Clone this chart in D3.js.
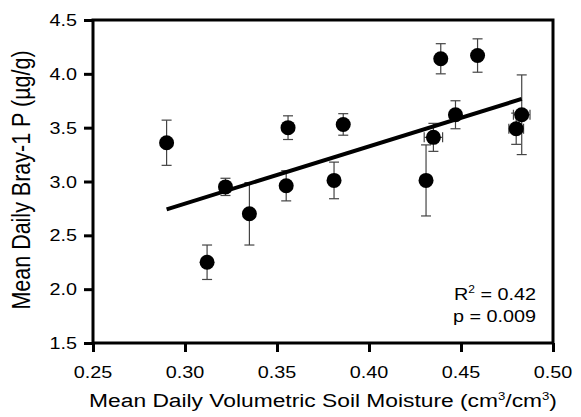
<!DOCTYPE html>
<html lang="en">
<head>
  <meta charset="UTF-8">
  <title>Bray-1 P vs soil moisture</title>
  <script src="https://cdn.jsdelivr.net/npm/d3@7"></script>
<style>
body{
  margin: 0;
  background: #fff;
}
text{
  font-family: "Liberation Sans", Arial, sans-serif;
  fill: #000;
}
.eje{
  stroke: #000;
  stroke-width: 3;
  fill: none;
}
.error{
  stroke: #444;
  stroke-width: 1.2;
}
.ajuste{
  stroke: #000;
  stroke-width: 4;
}
</style>
</head>
<body>
  <div id="grafico"></div>

  <script>
    // datos
    var humedad   = [0.290, 0.312, 0.322, 0.335, 0.355, 0.356, 0.381, 0.386, 0.431, 0.435, 0.439, 0.447, 0.459, 0.480, 0.483];
    var fosforo   = [3.36, 2.25, 2.95, 2.70, 2.96, 3.50, 3.01, 3.53, 3.01, 3.41, 4.14, 3.62, 4.17, 3.49, 3.62];
    var errorP    = [0.21, 0.16, 0.08, 0.29, 0.14, 0.11, 0.17, 0.10, 0.33, 0.13, 0.14, 0.13, 0.155, 0.145, 0.37];
    var errorH    = [0, 0, 0, 0, 0, 0, 0, 0, 0, 0.005, 0, 0, 0, 0.004, 0.0045];
    var ticksX    = [0.25, 0.30, 0.35, 0.40, 0.45, 0.50];
    var ticksY    = [1.5, 2.0, 2.5, 3.0, 3.5, 4.0, 4.5];
    // recta de regresion
    var ordenada  = 1.202;
    var pendiente = 5.31;
    var rangoAjuste = [0.29, 0.483];
    var notas = ["R2 = 0.42", "p = 0.009"];

    var w = 581;
    var h = 417;
    var izq = 93, der = 553, arriba = 20, abajo = 343;
    var estirar = 1.2;

    var svg = d3.select("#grafico")
      .append("svg")
      .attr("width", w)
      .attr("height", h);

    var xScale = d3.scaleLinear().domain([0.25, 0.50]).range([izq, der]);
    var yScale = d3.scaleLinear().domain([1.5, 4.5]).range([abajo, arriba]);

    // ejes
    svg.append("g")
      .attr("transform", "translate(0," + abajo + ")")
      .call(d3.axisBottom(xScale).tickValues(ticksX).tickSize(9).tickFormat(""));
    svg.append("g")
      .attr("transform", "translate(" + izq + ",0)")
      .call(d3.axisLeft(yScale).tickValues(ticksY).tickSize(9).tickFormat(""));
    svg.selectAll(".domain").remove();
    svg.selectAll(".tick line").attr("stroke", "#000").attr("stroke-width", 3);

    svg.append("rect")
      .attr("class", "eje")
      .attr("x", izq).attr("y", arriba)
      .attr("width", der - izq).attr("height", abajo - arriba);

    // etiquetas de los ticks (algo estiradas en horizontal como el original)
    ticksX.forEach(function(t){
      svg.append("text")
        .attr("transform", "translate(" + xScale(t) + ",378) scale(" + estirar + ",1)")
        .attr("text-anchor", "middle")
        .style("font-size", "16.5px")
        .text(d3.format(".2f")(t));
    });
    ticksY.forEach(function(t){
      svg.append("text")
        .attr("transform", "translate(77," + (yScale(t) + 6) + ") scale(" + estirar + ",1)")
        .attr("text-anchor", "end")
        .style("font-size", "16.5px")
        .text(d3.format(".1f")(t));
    });

    // titulos
    var tx = svg.append("text")
      .attr("transform", "translate(" + ((izq + der) / 2) + ",407) scale(" + estirar + ",1)")
      .attr("text-anchor", "middle")
      .style("font-size", "19px");
    tx.append("tspan").text("Mean Daily Volumetric Soil Moisture (cm");
    tx.append("tspan").attr("dy", -7).style("font-size", "11px").text("3");
    tx.append("tspan").attr("dy", 7).text("/cm");
    tx.append("tspan").attr("dy", -7).style("font-size", "11px").text("3");
    tx.append("tspan").attr("dy", 7).text(")");

    svg.append("text")
      .attr("transform", "translate(30,180) scale(" + estirar + ",1) rotate(-90)")
      .attr("text-anchor", "middle")
      .style("font-size", "21.5px")
      .text("Mean Daily Bray-1 P (\u00b5g/g)");

    // barras de error
    var datos = humedad.map(function(d, i){
      return {x: d, y: fosforo[i], ey: errorP[i], ex: errorH[i]};
    });

    var gErr = svg.append("g").attr("class", "error");
    datos.forEach(function(d){
      var cx = xScale(d.x);
      gErr.append("line").attr("x1", cx).attr("x2", cx)
        .attr("y1", yScale(d.y - d.ey)).attr("y2", yScale(d.y + d.ey));
      [d.y - d.ey, d.y + d.ey].forEach(function(v){
        gErr.append("line").attr("x1", cx - 5).attr("x2", cx + 5)
          .attr("y1", yScale(v)).attr("y2", yScale(v));
      });
      if (d.ex > 0){
        var cy = yScale(d.y);
        gErr.append("line").attr("y1", cy).attr("y2", cy)
          .attr("x1", xScale(d.x - d.ex)).attr("x2", xScale(d.x + d.ex));
        [d.x - d.ex, d.x + d.ex].forEach(function(v){
          gErr.append("line").attr("y1", cy - 5).attr("y2", cy + 5)
            .attr("x1", xScale(v)).attr("x2", xScale(v));
        });
      }
    });

    // recta de ajuste
    var linea = d3.line()
      .x(function(d){ return xScale(d); })
      .y(function(d){ return yScale(ordenada + pendiente * d); });
    svg.append("path")
      .datum(rangoAjuste)
      .attr("class", "ajuste")
      .attr("d", linea);

    // puntos
    svg.selectAll("circle.punto")
      .data(datos)
      .enter()
      .append("circle")
      .attr("class", "punto")
      .attr("cx", function(d){ return xScale(d.x); })
      .attr("cy", function(d){ return yScale(d.y); })
      .attr("r", 7.5)
      .attr("fill", "#000");

    // estadisticos
    var r2 = svg.append("text")
      .attr("transform", "translate(536,300) scale(" + estirar + ",1)")
      .attr("text-anchor", "end")
      .style("font-size", "16.5px");
    r2.append("tspan").text("R");
    r2.append("tspan").attr("dy", -7).style("font-size", "10px").text("2");
    r2.append("tspan").attr("dy", 7).text(notas[0].slice(2));

    svg.append("text")
      .attr("transform", "translate(536,322) scale(" + estirar + ",1)")
      .attr("text-anchor", "end")
      .style("font-size", "16.5px")
      .text(notas[1]);
  </script>
</body>
</html>
